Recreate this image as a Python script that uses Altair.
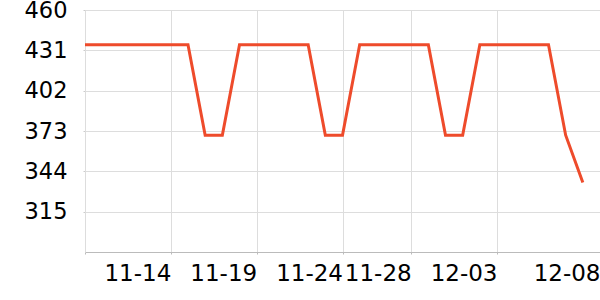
import altair as alt
import pandas as pd

dates = pd.date_range("2024-11-09", "2024-12-08", freq="D").strftime("%Y-%m-%dT00:00:00").tolist()
values = [435, 435, 435, 435, 435, 435, 435, 370, 370, 435,
          435, 435, 435, 435, 370, 370, 435, 435, 435, 435,
          435, 370, 370, 435, 435, 435, 435, 435, 370, 336]
y_ticks = [315, 344, 373, 402, 431, 460]
x_ticks = ["2024-11-09T00:00:00", "2024-11-14T00:00:00", "2024-11-19T00:00:00",
           "2024-11-24T00:00:00", "2024-11-28T00:00:00", "2024-12-03T00:00:00",
           "2024-12-08T23:59:00"]

df = pd.DataFrame({"date": dates, "value": values})


def dt(s):
    ts = pd.Timestamp(s)
    return alt.DateTime(year=ts.year, month=ts.month, date=ts.day,
                        hours=ts.hour, minutes=ts.minute)


chart = alt.Chart(df).mark_line(color="#EE4B2B", strokeWidth=3, clip=True).encode(
    x=alt.X("date:T",
            scale=alt.Scale(domain=[dt("2024-11-09T00:00:00"), dt("2024-12-09T00:00:00")], nice=False),
            axis=alt.Axis(values=[dt(v) for v in x_ticks], format="%m-%d",
                          labelExpr="datum.label == '11-09' ? '' : datum.label",
                          labelAlign="right", labelPadding=8, tickSize=2,
                          labelFontSize=23, labelOverlap=False,
                          title=None, grid=True)),
    y=alt.Y("value:Q",
            scale=alt.Scale(domain=[286, 460], nice=False, zero=False),
            axis=alt.Axis(values=y_ticks, tickSize=2, labelPadding=16, title=None,
                          labelFontSize=22.5,
                          grid=True, domainColor="#dddddd", tickColor="#cccccc")),
).properties(
    width=515, height=242,
    autosize=alt.AutoSizeParams(type="none"),
    padding={"left": 85, "top": 10, "right": 0, "bottom": 48},
).configure_axis(
    labelFont="DejaVu Sans", labelColor="#000000",
    gridColor="#dddddd", domainColor="#bbbbbb", tickColor="#bbbbbb",
).configure_view(stroke=None)

chart.save("out.html", embed_options={"renderer": "svg", "actions": False})
